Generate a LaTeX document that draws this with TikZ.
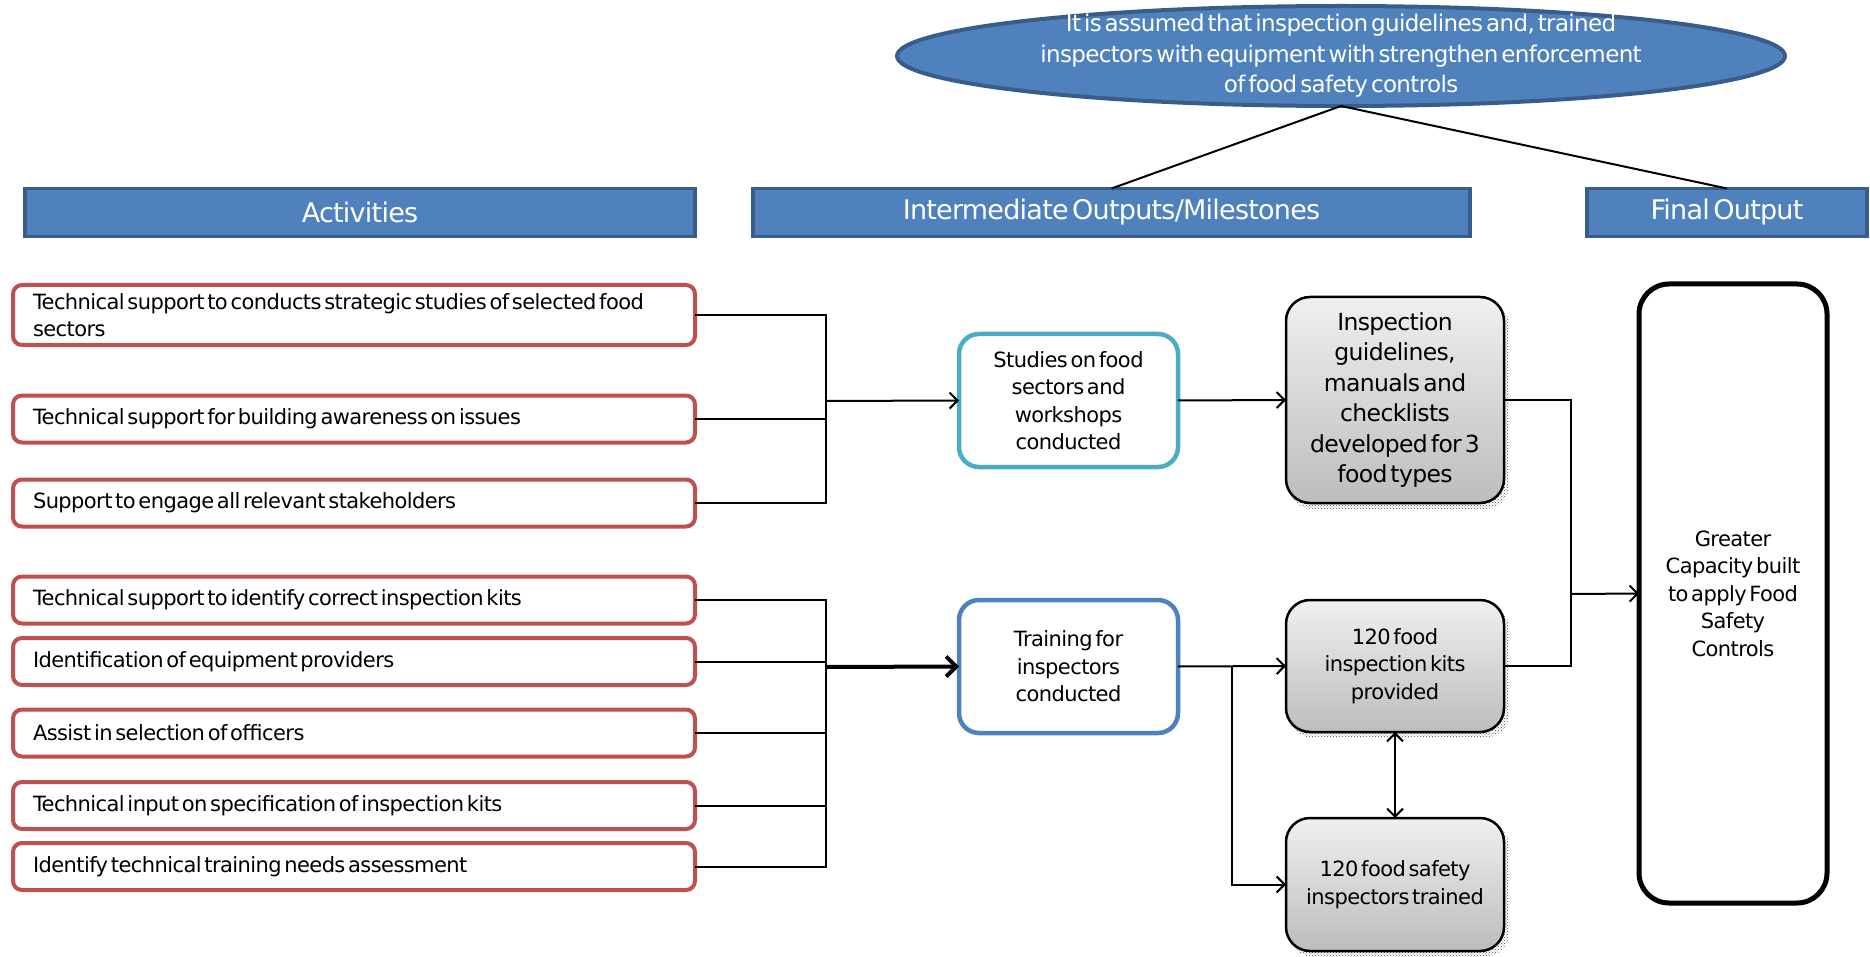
\documentclass[tikz,border=0pt]{standalone}
\usepackage{fontspec}
\setmainfont{DejaVu Sans}[LetterSpace=-2.8, WordSpace=0.45]
\usetikzlibrary{shapes.geometric,arrows.meta,patterns,shadows}
\definecolor{hdfill}{HTML}{4F81BD}
\definecolor{hdline}{HTML}{385D8A}
\definecolor{actline}{HTML}{C0504D}
\definecolor{studyline}{HTML}{4BACC6}
\definecolor{trainline}{HTML}{4F81BD}
\definecolor{ink}{HTML}{000000}
% left-aligned text block of an activity box, keeping the font's own word spaces
\newcommand{\acttext}[1]{\parbox{642pt}{\raggedright #1}}
\begin{document}
\begin{tikzpicture}[x=1pt,y=-1pt,
  every node/.style={inner sep=0pt, outer sep=0pt, text=ink},
  body/.style={font=\fontsize{21}{27.5}\selectfont, align=center},
  header/.style={draw=hdline, fill=hdfill, line width=3.5pt, text=white,
    font=\fontsize{27}{32}\selectfont, minimum height=48pt},
  activity/.style={draw=actline, fill=white, line width=4pt, rounded corners=9pt,
    inner xsep=20pt, minimum height=47pt,
    font=\fontsize{21}{27}\selectfont},
  outbox/.style={body, draw=#1, fill=white, line width=4.5pt, rounded corners=20pt,
    minimum width=219pt, minimum height=133pt},
  milestone/.style={body, draw=black, line width=2.5pt, rounded corners=24pt,
    top color=white!94!black, bottom color=white!74!black,
    minimum width=218pt,
    drop shadow={shadow xshift=4pt, shadow yshift=-5pt, shadow scale=1.01,
      pattern=crosshatch dots, pattern color=black!70, opacity=1}},
  conn/.style={line width=2pt, draw=black},
  arr/.style={conn, -{Straight Barb[length=8pt,width=16pt,line width=2pt]}},
  bigarr/.style={line width=4pt, -{Straight Barb[length=10pt,width=20pt,line width=4pt]}},
  duoarr/.style={conn, {Straight Barb[length=8pt,width=16pt,line width=2pt]}-{Straight Barb[length=8pt,width=16pt,line width=2pt]}}
]
\useasboundingbox (0,0) rectangle (1870,957);

% assumption ellipse
\node[ellipse, draw=hdline, fill=hdfill, line width=4pt,
      minimum width=888pt, minimum height=100pt] (ell) at (1341,56) {};
\node[text=white, font=\fontsize{23}{30.5}\selectfont, align=center] (elltext) at (1341,56)
  {It is assumed that inspection guidelines and, trained\\
   inspectors with equipment with strengthen enforcement\\
   of food safety controls};

% column headers
\node[header, minimum width=670pt] (hdact) at (360,212.5) {Activities};
\node[header, minimum width=717pt] (hdmid) at (1111.5,212.5) {Intermediate Outputs/Milestones};
\node[header, minimum width=280pt] (hdfin) at (1727,212.5) {Final Output};

\draw[conn] (ell.south) -- (hdmid.north);
\draw[conn] (ell.south) -- (hdfin.north);

% activities
\node[activity, minimum height=60pt] (a1) at (354,315)
  {\acttext{Technical support to conducts strategic studies of selected food\\sectors}};
\node[activity] (a2) at (354,419) {\acttext{Technical support for building awareness on issues}};
\node[activity] (a3) at (354,503) {\acttext{Support to engage all relevant stakeholders}};
\node[activity] (a4) at (354,600) {\acttext{Technical support to identify correct inspection kits}};
\node[activity] (a5) at (354,661.5) {\acttext{Identification of equipment providers}};
\node[activity] (a6) at (354,733) {\acttext{Assist in selection of officers}};
\node[activity] (a7) at (354,805.5) {\acttext{Technical input on specification of inspection kits}};
\node[activity] (a8) at (354,866.5) {\acttext{Identify technical training needs assessment}};

% intermediate outputs
\node[outbox=studyline] (study) at (1068.5,400.5)
  {Studies on food\\sectors and\\workshops\\conducted};
\node[outbox=trainline] (train) at (1068.5,666.5)
  {Training for\\inspectors\\conducted};

% milestones
\node[milestone, minimum height=206pt, font=\fontsize{23.5}{30.5}\selectfont] (guide) at (1395,400)
  {Inspection\\guidelines,\\manuals and\\checklists\\developed for 3\\food types};
\node[milestone, minimum height=132pt] (kits) at (1395,666)
  {120 food\\inspection kits\\provided};
\node[milestone, minimum height=133pt] (trained) at (1395,884.5)
  {120 food safety\\inspectors trained};

% final output
\node[body, draw=black, fill=white, line width=5pt, rounded corners=30pt,
      minimum width=188pt, minimum height=619pt] (final) at (1733,593.5)
  {Greater\\Capacity built\\to apply Food\\Safety\\Controls};

% junction points
\coordinate (j1) at (826,401);
\coordinate (j2) at (826,667);
\coordinate (j3) at (1232,667);
\coordinate (j4) at (1571,594);

% first group of activities
\draw[conn] (a1.east) -| (j1);
\draw[conn] (a3.east) -| (j1);
\draw[conn] (a2.east) -- (a2.east -| j1);
\draw[arr] (j1) -- (study.west);
\draw[arr] (study.east) -- (guide.west);

% second group of activities
\draw[conn] (a4.east) -| (j2);
\draw[conn] (a8.east) -| (j2);
\draw[conn] (a5.east) -- (a5.east -| j2);
\draw[conn] (a6.east) -- (a6.east -| j2);
\draw[conn] (a7.east) -- (a7.east -| j2);
\draw[bigarr] (j2) -- (train.west);
\draw[arr] (train.east) -- (kits.west);
\draw[arr] (j3) |- (trained.west);
\draw[duoarr] (kits.south) -- (trained.north);

% towards the final output
\draw[conn] (guide.east) -| (j4);
\draw[conn] (kits.east) -| (j4);
\draw[arr] (j4) -- (final.west);
\end{tikzpicture}
\end{document}
